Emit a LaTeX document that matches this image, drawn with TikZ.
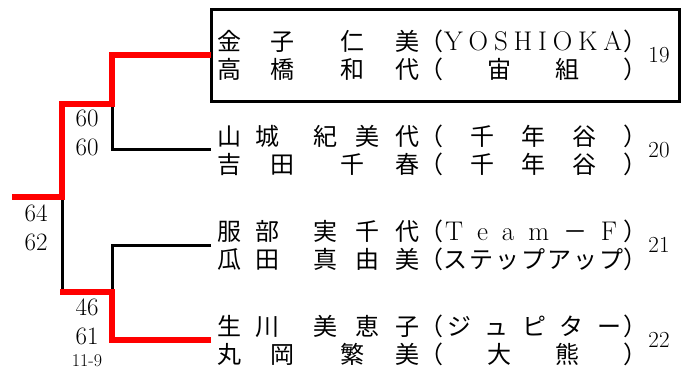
\documentclass[tikz,border=0pt]{standalone}
\usepackage{fontspec}
\newfontfamily\jp{Noto Sans CJK JP}
\usetikzlibrary{positioning, calc}

\newcommand{\namefour}[4]{{\jp #1\hspace{29pt}#2\hspace{46pt}#3\hspace{31pt}#4}}
\newcommand{\namefive}[5]{{\jp #1\hspace{14pt}#2\hspace{34pt}#3\hspace{18pt}#4\hspace{16pt}#5}}
\newcommand{\club}[1]{{\jp （}\makebox[180pt][s]{#1}{\jp ）}}
\newcommand{\latin}{\fontsize{27}{28}\selectfont}

\begin{document}
\begin{tikzpicture}[x=1pt, y=-1pt,
		team/.style={anchor=west, inner xsep=6pt, inner ysep=0pt, align=left, font=\fontsize{24}{28}\selectfont},
		seed/.style={inner sep=0pt, font=\fontsize{23}{26}\selectfont},
		score/.style={inner sep=0pt, align=center, font=\fontsize{25}{29}\selectfont},
		tiebreak/.style={inner sep=0pt, font=\fontsize{18}{20}\selectfont},
		win/.style={red, line width=6pt},
		lose/.style={black, line width=3pt}]
			\useasboundingbox (0, 0) rectangle (687, 371);
			
			\node[team] (t19) at (211, 55) {\namefour{金}{子}{仁}{美}\club{\latin\hspace{1pt}Y\hfill O\hfill S\hfill H\hfill I\hfill O\hfill K\hfill A\hspace{1pt}}\\
				\namefour{高}{橋}{和}{代}\club{\hfill\jp 宙\hfill 組\hfill}};
			\node[team] (t20) at (211, 150) {\namefive{山}{城}{紀}{美}{代}\club{\hfill\jp 千\hfill 年\hfill 谷\hfill}\\
				\namefour{吉}{田}{千}{春}\club{\hfill\jp 千\hfill 年\hfill 谷\hfill}};
			\node[team] (t21) at (211, 245) {\namefive{服}{部}{実}{千}{代}\club{\latin\hspace{2pt}T\hfill e\hfill a\hfill m\hfill{\jp\fontsize{24}{28}\selectfont －}\hfill F\hspace{6pt}}\\
				\namefive{瓜}{田}{真}{由}{美}\club{\jp ス\hfill テ\hfill ッ\hfill プ\hfill ア\hfill ッ\hfill プ}};
			\node[team] (t22) at (211, 340) {\namefive{生}{川}{美}{恵}{子}\club{\hspace{4pt}\jp ジ\hfill ュ\hfill ピ\hfill タ\hfill ー\hspace{2pt}}\\
				\namefour{丸}{岡}{繁}{美}\club{\hfill\jp 大\hfill 熊\hfill}};
			
			\node[seed] (s19) at (659, 55) {19};
			\node[seed] (s20) at (659, 150) {20};
			\node[seed] (s21) at (659, 245) {21};
			\node[seed] (s22) at (659, 340) {22};
			
			\node[draw, line width=3pt, minimum width=468pt, minimum height=91.5pt, inner sep=0pt] (champbox) at (445.5, 55.75) {};
			
			\coordinate (m1) at (112, 104);
			\coordinate (m2) at (112, 292);
			\coordinate (final) at (62, 197);
			\coordinate (champ) at (12, 197);
			
			\draw[lose] (t20.west) -| (m1);
			\draw[lose] (t21.west) -| (m2);
			\draw[lose] (m2 -| final) -- (final);
			\draw[win] (t19.west) -| (m1) -| (final) -- (champ);
			\draw[win] (t22.west) -| (m2) -- ($(m2 -| final) + (-2, 0)$);
			
			\node[score] (sc1) at (87, 133) {60\\60};
			\node[score] (sc2) at (36, 228) {64\\62};
			\node[score] (sc3) at (87, 322) {46\\61};
			\node[tiebreak] (tb3) at (87, 361) {11-9};
		\end{tikzpicture}
\end{document}
